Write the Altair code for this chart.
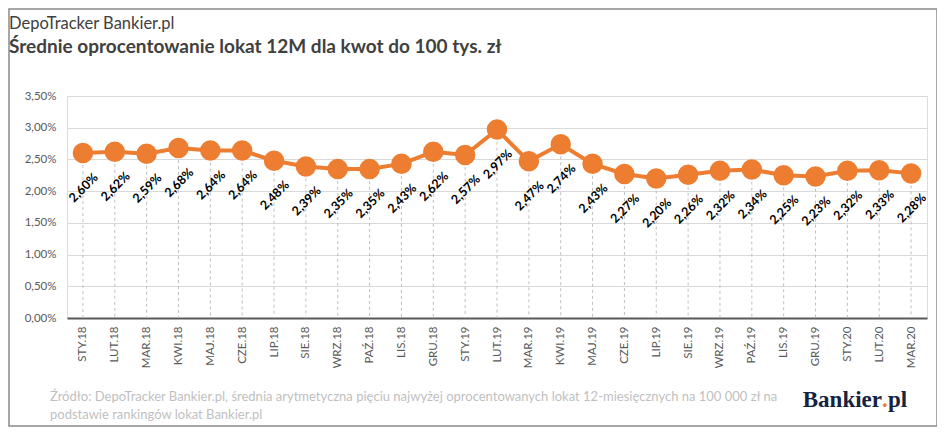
import altair as alt
import pandas as pd

months = ["STY.18", "LUT.18", "MAR.18", "KWI.18", "MAJ.18", "CZE.18", "LIP.18", "SIE.18",
          "WRZ.18", "PAŹ.18", "LIS.18", "GRU.18", "STY.19", "LUT.19", "MAR.19", "KWI.19",
          "MAJ.19", "CZE.19", "LIP.19", "SIE.19", "WRZ.19", "PAŹ.19", "LIS.19", "GRU.19",
          "STY.20", "LUT.20", "MAR.20"]
rates = [2.60, 2.62, 2.59, 2.68, 2.64, 2.64, 2.48, 2.39, 2.35, 2.35, 2.43, 2.62, 2.57,
         2.97, 2.47, 2.74, 2.43, 2.27, 2.20, 2.26, 2.32, 2.34, 2.25, 2.23, 2.32, 2.33, 2.28]
y_ticks = [0, 0.5, 1.0, 1.5, 2.0, 2.5, 3.0, 3.5]

kicker = "DepoTracker Bankier.pl"
title = "Średnie oprocentowanie lokat 12M dla kwot do 100 tys. zł"
source_lines = ["Źródło: DepoTracker Bankier.pl, średnia arytmetyczna pięciu najwyżej oprocentowanych lokat 12-miesięcznych na 100 000 zł na",
                "podstawie rankingów lokat Bankier.pl"]

ORANGE = "#ED7D31"
FONT = "Lato"

df = pd.DataFrame({
    "month": months,
    "rate": rates,
    "label": [f"{v:.2f}%".replace(".", ",") for v in rates],
})

W, H = 860, 222

x = alt.X("month:N", sort=months, title=None,
          scale=alt.Scale(type="point", padding=0.5),
          axis=alt.Axis(labelAngle=270, labelAlign="right", labelBaseline="middle",
                        labelPadding=8, ticks=False, labelFontSize=11.5,
                        labelColor="#595959", labelFont=FONT,
                        domainColor="#595959", domainWidth=2, grid=False))
y = alt.Y("rate:Q", title=None,
          scale=alt.Scale(domain=[0, 3.5], nice=False),
          axis=alt.Axis(values=y_ticks, ticks=False, domain=False, labelPadding=11,
                        labelFontSize=11.5, labelColor="#595959", labelFont=FONT,
                        gridColor="#d9d9d9", gridWidth=1,
                        labelExpr="replace(format(datum.value, '.2f'), '.', ',') + '%'"))

base = alt.Chart(df)

drops = base.mark_rule(color="#bfbfbf", strokeDash=[3, 3], strokeWidth=1).encode(
    x=x, y=y, y2=alt.datum(0))
line = base.mark_line(color=ORANGE, strokeWidth=4).encode(x=x, y=y)
dots = base.mark_circle(color=ORANGE, size=420, opacity=1).encode(x=x, y=y)
labels = base.mark_text(angle=315, dx=-24, dy=25, fontSize=12.5, fontWeight="bold",
                        color="#000000", font=FONT).encode(x=x, y=y, text="label:N")

one = pd.DataFrame({"k": [0]})
frame = alt.Chart(one).mark_rect(filled=False, stroke="#8a8a8a", strokeWidth=1.5).encode(
    x=alt.value(-58), x2=alt.value(870), y=alt.value(-87), y2=alt.value(330))
t1 = alt.Chart(one).mark_text(align="left", baseline="alphabetic", fontSize=16.5,
                              color="#404040", font=FONT).encode(
    x=alt.value(-58), y=alt.value(-67), text=alt.value(kicker))
t2 = alt.Chart(one).mark_text(align="left", baseline="alphabetic", fontSize=19,
                              fontWeight="bold", color="#404040", font=FONT).encode(
    x=alt.value(-58), y=alt.value(-43), text=alt.value(title))
src = alt.Chart(one).mark_text(align="left", baseline="middle", fontSize=13,
                               lineHeight=18, color="#bfbfbf", font=FONT).encode(
    x=alt.value(-17), y=alt.value(301), text=alt.value(source_lines))
logo_a = alt.Chart(one).mark_text(align="right", baseline="alphabetic", fontSize=23,
                                  fontWeight="bold", color="#14233f",
                                  font="Liberation Serif").encode(
    x=alt.value(815), y=alt.value(311), text=alt.value("Bankier"))
logo_dot = alt.Chart(one).mark_text(align="left", baseline="alphabetic", fontSize=23,
                                    fontWeight="bold", color=ORANGE,
                                    font="Liberation Serif").encode(
    x=alt.value(815), y=alt.value(311), text=alt.value("."))
logo_b = alt.Chart(one).mark_text(align="left", baseline="alphabetic", fontSize=23,
                                  fontWeight="bold", color="#14233f",
                                  font="Liberation Serif").encode(
    x=alt.value(821), y=alt.value(311), text=alt.value("pl"))

chart = alt.layer(drops, line, dots, labels, frame, t1, t2, src, logo_a, logo_dot, logo_b).properties(
    width=W, height=H,
    autosize=alt.AutoSizeParams(type="none"),
    padding={"left": 59, "top": 88, "right": 10, "bottom": 109},
).configure_view(stroke=None).configure(background="white")

chart.save("out.html", embed_options={"renderer": "svg", "actions": False})
